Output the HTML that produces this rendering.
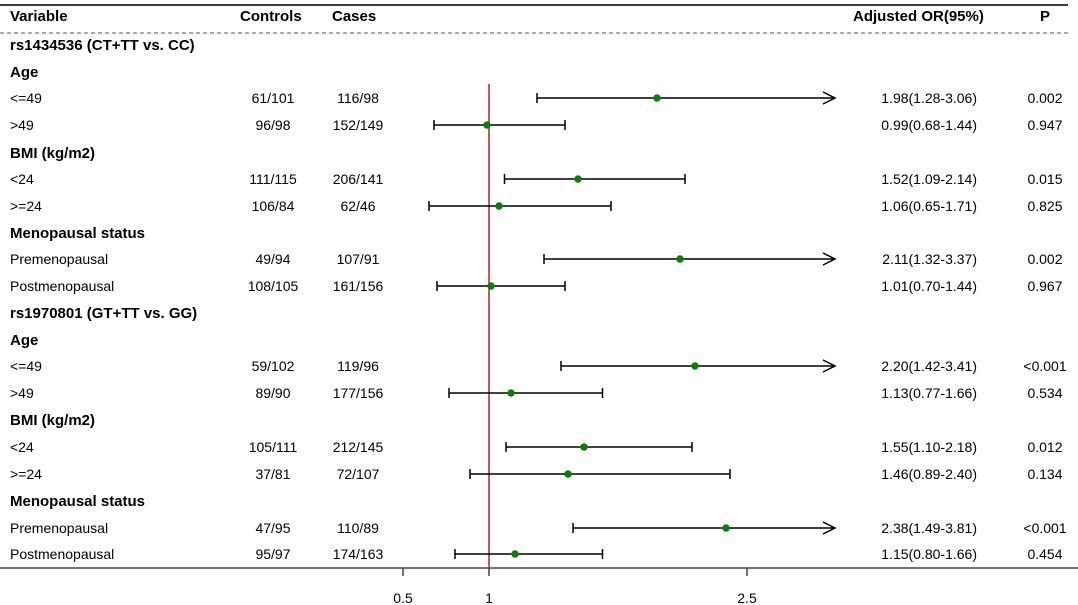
<!DOCTYPE html>
<html><head><meta charset="utf-8"><style>
html,body{margin:0;padding:0;background:#fff;}
svg{display:block;}
text{font-family:"Liberation Sans",Arial,sans-serif;fill:#000;}
.b{font-weight:bold;font-size:15px;}
.n{font-size:14px;}
</style></head><body>
<svg width="1078" height="605" viewBox="0 0 1078 605">
<line x1="0" y1="5" x2="1068" y2="5" stroke="#000" stroke-width="1.5"/>
<line x1="0" y1="33" x2="1068" y2="33" stroke="#555" stroke-width="1" stroke-dasharray="4,3"/>
<line x1="0" y1="568" x2="1078" y2="568" stroke="#444" stroke-width="1.5"/>
<g stroke="#444" stroke-width="1.5">
<line x1="403" y1="568" x2="403" y2="576"/><line x1="489" y1="568" x2="489" y2="576"/><line x1="747" y1="568" x2="747" y2="576"/>
</g>
<text class="n" x="403" y="603" text-anchor="middle">0.5</text>
<text class="n" x="489" y="603" text-anchor="middle">1</text>
<text class="n" x="747" y="603" text-anchor="middle">2.5</text>
<line x1="489" y1="84" x2="489" y2="568" stroke="#b22222" stroke-width="1.5"/>

<text class="b" x="10" y="21">Variable</text>
<text class="b" x="240" y="21">Controls</text>
<text class="b" x="332" y="21">Cases</text>
<text class="b" x="853" y="21">Adjusted OR(95%)</text>
<text class="b" x="1045" y="21" text-anchor="middle">P</text>

<text class="b" x="10" y="50">rs1434536 (CT+TT vs. CC)</text>
<text class="b" x="10" y="77">Age</text>
<text class="b" x="10" y="158">BMI (kg/m2)</text>
<text class="b" x="10" y="238">Menopausal status</text>
<text class="b" x="10" y="318">rs1970801 (GT+TT vs. GG)</text>
<text class="b" x="10" y="345">Age</text>
<text class="b" x="10" y="425">BMI (kg/m2)</text>
<text class="b" x="10" y="506">Menopausal status</text>

<g class="n">
<text class="n" x="10" y="103">&lt;=49</text><text class="n" x="273" y="103" text-anchor="middle">61/101</text><text class="n" x="358" y="103" text-anchor="middle">116/98</text><text class="n" x="977" y="103" text-anchor="end">1.98(1.28-3.06)</text><text class="n" x="1045" y="103" text-anchor="middle">0.002</text>
<text class="n" x="10" y="130">&gt;49</text><text class="n" x="273" y="130" text-anchor="middle">96/98</text><text class="n" x="358" y="130" text-anchor="middle">152/149</text><text class="n" x="977" y="130" text-anchor="end">0.99(0.68-1.44)</text><text class="n" x="1045" y="130" text-anchor="middle">0.947</text>
<text class="n" x="10" y="184">&lt;24</text><text class="n" x="273" y="184" text-anchor="middle">111/115</text><text class="n" x="358" y="184" text-anchor="middle">206/141</text><text class="n" x="977" y="184" text-anchor="end">1.52(1.09-2.14)</text><text class="n" x="1045" y="184" text-anchor="middle">0.015</text>
<text class="n" x="10" y="211">&gt;=24</text><text class="n" x="273" y="211" text-anchor="middle">106/84</text><text class="n" x="358" y="211" text-anchor="middle">62/46</text><text class="n" x="977" y="211" text-anchor="end">1.06(0.65-1.71)</text><text class="n" x="1045" y="211" text-anchor="middle">0.825</text>
<text class="n" x="10" y="264">Premenopausal</text><text class="n" x="273" y="264" text-anchor="middle">49/94</text><text class="n" x="358" y="264" text-anchor="middle">107/91</text><text class="n" x="977" y="264" text-anchor="end">2.11(1.32-3.37)</text><text class="n" x="1045" y="264" text-anchor="middle">0.002</text>
<text class="n" x="10" y="291">Postmenopausal</text><text class="n" x="273" y="291" text-anchor="middle">108/105</text><text class="n" x="358" y="291" text-anchor="middle">161/156</text><text class="n" x="977" y="291" text-anchor="end">1.01(0.70-1.44)</text><text class="n" x="1045" y="291" text-anchor="middle">0.967</text>
<text class="n" x="10" y="371">&lt;=49</text><text class="n" x="273" y="371" text-anchor="middle">59/102</text><text class="n" x="358" y="371" text-anchor="middle">119/96</text><text class="n" x="977" y="371" text-anchor="end">2.20(1.42-3.41)</text><text class="n" x="1045" y="371" text-anchor="middle">&lt;0.001</text>
<text class="n" x="10" y="398">&gt;49</text><text class="n" x="273" y="398" text-anchor="middle">89/90</text><text class="n" x="358" y="398" text-anchor="middle">177/156</text><text class="n" x="977" y="398" text-anchor="end">1.13(0.77-1.66)</text><text class="n" x="1045" y="398" text-anchor="middle">0.534</text>
<text class="n" x="10" y="452">&lt;24</text><text class="n" x="273" y="452" text-anchor="middle">105/111</text><text class="n" x="358" y="452" text-anchor="middle">212/145</text><text class="n" x="977" y="452" text-anchor="end">1.55(1.10-2.18)</text><text class="n" x="1045" y="452" text-anchor="middle">0.012</text>
<text class="n" x="10" y="479">&gt;=24</text><text class="n" x="273" y="479" text-anchor="middle">37/81</text><text class="n" x="358" y="479" text-anchor="middle">72/107</text><text class="n" x="977" y="479" text-anchor="end">1.46(0.89-2.40)</text><text class="n" x="1045" y="479" text-anchor="middle">0.134</text>
<text class="n" x="10" y="533">Premenopausal</text><text class="n" x="273" y="533" text-anchor="middle">47/95</text><text class="n" x="358" y="533" text-anchor="middle">110/89</text><text class="n" x="977" y="533" text-anchor="end">2.38(1.49-3.81)</text><text class="n" x="1045" y="533" text-anchor="middle">&lt;0.001</text>
<text class="n" x="10" y="559">Postmenopausal</text><text class="n" x="273" y="559" text-anchor="middle">95/97</text><text class="n" x="358" y="559" text-anchor="middle">174/163</text><text class="n" x="977" y="559" text-anchor="end">1.15(0.80-1.66)</text><text class="n" x="1045" y="559" text-anchor="middle">0.454</text>
</g>

<g stroke="#000" stroke-width="1.5" fill="none">
<!-- arrows -->
<path d="M537 98H835M537 93V103M823 92L835 98L823 104"/>
<path d="M544 259H835M544 254V264M823 253L835 259L823 265"/>
<path d="M561 366H835M561 361V371M823 360L835 366L823 372"/>
<path d="M573 528H835M573 523V533M823 522L835 528L823 534"/>
<!-- capped -->
<path d="M434 125H565M434 120V130M565 120V130"/>
<path d="M504.5 179H685M504.5 174V184M685 174V184"/>
<path d="M429 206H611M429 201V211M611 201V211"/>
<path d="M437 286H565M437 281V291M565 281V291"/>
<path d="M449 393H602.5M449 388V398M602.5 388V398"/>
<path d="M506 447H692M506 442V452M692 442V452"/>
<path d="M470 474H730M470 469V479M730 469V479"/>
<path d="M455 554H602.5M455 549V559M602.5 549V559"/>
</g>
<g fill="#0a7d0a">
<circle cx="657" cy="98" r="3.7"/><circle cx="487" cy="125" r="3.7"/>
<circle cx="578" cy="179" r="3.7"/><circle cx="499" cy="206" r="3.7"/>
<circle cx="680" cy="259" r="3.7"/><circle cx="491" cy="286" r="3.7"/>
<circle cx="695" cy="366" r="3.7"/><circle cx="511" cy="393" r="3.7"/>
<circle cx="584" cy="447" r="3.7"/><circle cx="568" cy="474" r="3.7"/>
<circle cx="726" cy="528" r="3.7"/><circle cx="515" cy="554" r="3.7"/>
</g>
</svg>
</body></html>
